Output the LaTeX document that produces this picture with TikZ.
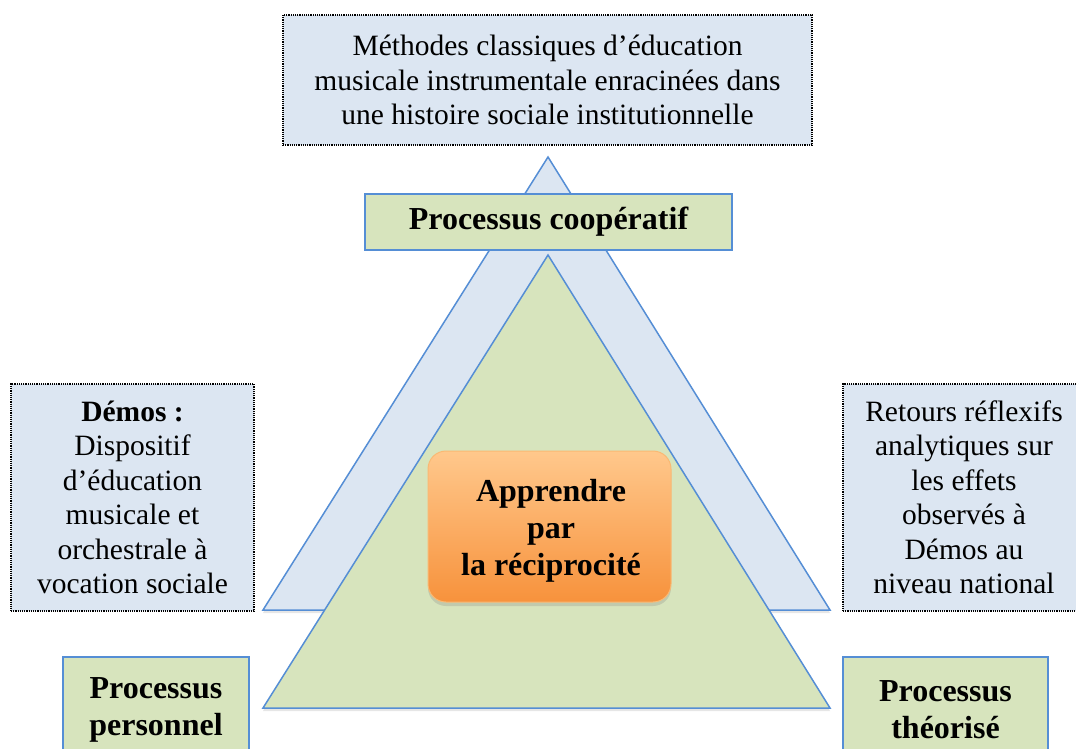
\documentclass[tikz,border=0pt]{standalone}
\usepackage{fontspec}
\setmainfont{Liberation Serif}
\usetikzlibrary{shadows}
\definecolor{paleblue}{RGB}{220,230,242}
\definecolor{palegreen}{RGB}{215,228,189}
\definecolor{edgeblue}{RGB}{85,142,213}
\definecolor{orangetop}{RGB}{255,200,140}
\definecolor{orangebot}{RGB}{247,146,60}
\definecolor{orangeedge}{RGB}{250,185,115}

\tikzset{
  notebox/.style={draw=black, densely dotted, line width=1.2pt, fill=paleblue,
    align=center, inner sep=0pt, font=\fontsize{29.5}{34.5}\selectfont},
  procbox/.style={draw=edgeblue, line width=1.8pt, fill=palegreen,
    align=center, inner sep=0pt, font=\fontsize{32}{37}\selectfont\bfseries},
  corebox/.style={draw=orangeedge, line width=1pt, rounded corners=18pt,
    top color=orangetop, bottom color=orangebot, align=center, inner sep=0pt,
    font=\fontsize{32}{37}\selectfont\bfseries,
    drop shadow={opacity=0.25, shadow xshift=0pt, shadow yshift=-4pt}},
  tri/.style={draw=edgeblue, line width=1.5pt,
    drop shadow={opacity=0.2, shadow xshift=0pt, shadow yshift=-3pt}}
}

\begin{document}
\begin{tikzpicture}[x=1pt,y=-1pt]

% Page frame
\useasboundingbox (0,0) rectangle (1076,749);

% Triangles
\draw[tri, fill=paleblue] (548,157) -- (263,610) -- (830,610) -- cycle;
\draw[tri, fill=palegreen] (548,255) -- (263,708) -- (830,708) -- cycle;

% Context boxes
\node[notebox, minimum width=529pt, minimum height=130pt] (methodes) at (547.5,80)
  {Méthodes classiques d’éducation\\musicale instrumentale enracinées dans\\une histoire sociale institutionnelle};
\node[notebox, minimum width=243pt, minimum height=227pt] (demos) at (132.5,497.5)
  {\textbf{Démos :}\\Dispositif\\d’éducation\\musicale et\\orchestrale à\\vocation sociale};
\node[notebox, minimum width=242pt, minimum height=227pt] (retours) at (964,497.5)
  {Retours réflexifs\\analytiques sur\\les effets\\observés à\\Démos au\\niveau national};

% Process boxes
\node[procbox, minimum width=367pt, minimum height=56pt] (coop) at (548.5,222) {Processus coopératif};
\node[procbox, minimum width=186pt, minimum height=106pt] (perso) at (156,710) {Processus\\personnel};
\node[procbox, minimum width=205pt, minimum height=106pt] (theo) at (945.5,710) {Processus\\théorisé};

% Core
\node[corebox, minimum width=243pt, minimum height=151pt] (core) at (549.5,526.5) {};
\node[font=\fontsize{32}{37}\selectfont\bfseries, align=center, inner sep=0pt] (coretext) at (551,531)
  {Apprendre\\par\\la réciprocité};

\end{tikzpicture}
\end{document}
